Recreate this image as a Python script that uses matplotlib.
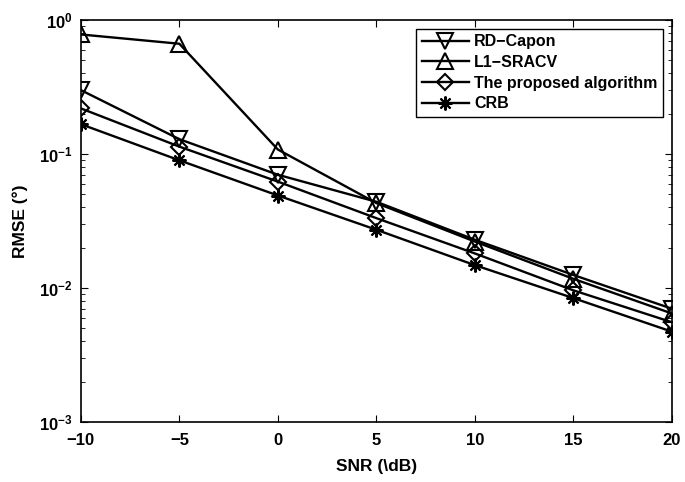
import matplotlib
matplotlib.use("Agg")
import matplotlib.pyplot as plt
from matplotlib.ticker import LogLocator, NullFormatter

plt.rcParams['font.family'] = ['Liberation Sans', 'DejaVu Sans']
plt.rcParams['font.weight'] = 'bold'

snr = [-10, -5, 0, 5, 10, 15, 20]
rd_capon = [0.30, 0.129, 0.0700, 0.044, 0.0229, 0.0125, 0.0070]
l1_sracv = [0.78, 0.665, 0.108, 0.043, 0.0222, 0.0117, 0.00645]
proposed = [0.219, 0.1135, 0.0622, 0.0332, 0.0181, 0.0096, 0.00555]
crb = [0.167, 0.0897, 0.0490, 0.0272, 0.0148, 0.0084, 0.00472]

fig = plt.figure(figsize=(6.85, 4.82), dpi=100)
ax = fig.add_axes([0.118, 0.1245, 0.863, 0.834])

style = dict(color='black', lw=1.7, mfc='none', mec='black', mew=1.5)
ax.plot(snr, rd_capon, marker='v', ms=11.5, label='RD\u2212Capon', **style)
ax.plot(snr, l1_sracv, marker='^', ms=11.5, label='L1\u2212SRACV', **style)
ax.plot(snr, proposed, marker='D', ms=8, label='The proposed algorithm', **style)
ax.plot(snr, crb, marker=(8, 2, 0), ms=10, label='CRB', color='black', lw=1.7,
        mec='black', mew=1.5)

ax.set_yscale('log')
ax.set_xlim(-10, 20)
ax.set_ylim(1e-3, 1)
ax.set_xticks([-10, -5, 0, 5, 10, 15, 20])
ax.set_xticklabels(['\u221210', '\u22125', '0', '5', '10', '15', '20'])
ax.yaxis.set_minor_locator(LogLocator(base=10, subs=range(2, 10)))
ax.yaxis.set_minor_formatter(NullFormatter())
ax.tick_params(which='both', direction='in', top=True, right=True, labelsize=12)
ax.tick_params(which='major', length=5, width=0.8)
ax.tick_params(which='minor', length=3, width=0.6)
ax.tick_params(axis='x', pad=8)
ax.tick_params(axis='y', pad=6)
for s in ax.spines.values():
    s.set_linewidth(1.2)

ax.set_xlabel('SNR (\\dB)', fontsize=12.5, fontweight='bold', labelpad=8)
ax.set_ylabel('RMSE (\u00b0)', fontsize=12.5, fontweight='bold', labelpad=8)

leg = ax.legend(loc='upper right', fontsize=11.5, handlelength=3.0,
                fancybox=False, edgecolor='black', framealpha=1,
                borderaxespad=0.55, labelspacing=0.35, handletextpad=0.3,
                borderpad=0.35)
leg.get_frame().set_linewidth(1.0)

fig.savefig('out.png', dpi=100)
